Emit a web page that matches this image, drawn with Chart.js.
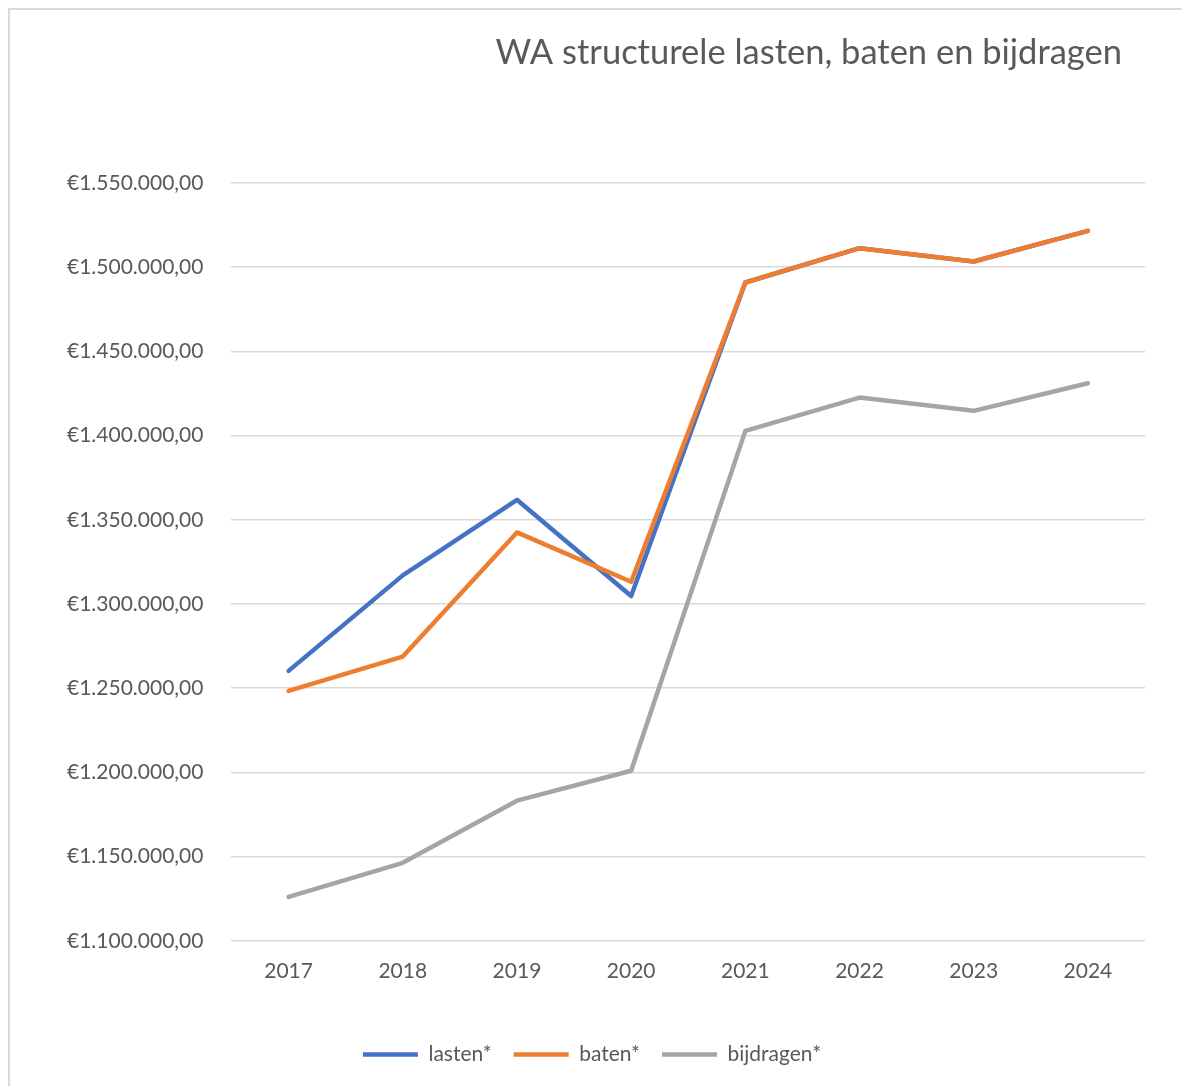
<!DOCTYPE html>
<html>
<head>
<meta charset="utf-8">
<script src="https://cdn.jsdelivr.net/npm/chart.js@4.4.1/dist/chart.umd.min.js"></script>
<style>
  body { margin: 0; background: #fff; }
  #frame {
    position: absolute; left: 8px; top: 8px;
    width: 1180px; height: 1084px;
    border-left: 2px solid #d9d9d9; border-top: 2px solid #d9d9d9;
  }
</style>
</head>
<body>
<div id="frame"><canvas id="lineChart" width="1172" height="1076"></canvas></div>
<script>
// data
var years = ['2017', '2018', '2019', '2020', '2021', '2022', '2023', '2024'];
var lasten = [1260300, 1317000, 1361900, 1304700, 1490900, 1511300, 1503400, 1521600];
var baten = [1248400, 1268800, 1342500, 1313200, 1490900, 1511300, 1503400, 1521600];
var bijdragen = [1126100, 1146300, 1183200, 1201000, 1402800, 1422600, 1414700, 1431100];
var titleText = 'WA structurele lasten, baten en bijdragen';

var textColor = '#595959';
var fontFamily = 'Lato, "Open Sans", sans-serif';

// €1.550.000,00 style
function euro(v) {
  var s = Math.round(v).toString().replace(/\B(?=(\d{3})+(?!\d))/g, '.');
  return '€' + s + ',00';
}

function line(label, values, color, order) {
  return {
    label: label,
    data: values,
    order: order,
    borderColor: color,
    backgroundColor: color,
    borderWidth: 4.5,
    borderCapStyle: 'round',
    borderJoinStyle: 'round',
    pointRadius: 0,
    tension: 0,
    fill: false
  };
}

// title at the right side, like the original
var rightTitle = {
  id: 'rightTitle',
  afterDraw: function(chart) {
    var ctx = chart.ctx;
    ctx.save();
    ctx.font = '34.5px ' + fontFamily;
    ctx.fillStyle = textColor;
    ctx.textAlign = 'right';
    ctx.textBaseline = 'middle';
    ctx.fillText(titleText, chart.chartArea.right - 23, 43);
    ctx.restore();
  }
};

var ctx = document.getElementById('lineChart').getContext('2d');
var chart = new Chart(ctx, {
  type: 'line',
  data: {
    labels: years,
    datasets: [
      // orange sits on top of blue where they overlap
      line('lasten*', lasten, '#4472c4', 2),
      line('baten*', baten, '#ed7d31', 1),
      line('bijdragen*', bijdragen, '#a5a5a5', 3)
    ]
  },
  options: {
    responsive: false,
    animation: false,
    layout: { padding: { left: 29, right: 37, top: 173, bottom: 11 } },
    plugins: {
      title: { display: false },
      tooltip: { enabled: false },
      legend: {
        position: 'bottom',
        labels: {
          usePointStyle: true,
          pointStyle: 'line',
          pointStyleWidth: 55,
          color: textColor,
          font: { family: fontFamily, size: 21 },
          padding: 22,
          sort: function(a, b) { return a.datasetIndex - b.datasetIndex; }
        }
      }
    },
    scales: {
      x: {
        offset: true,
        grid: { display: false },
        border: { display: false },
        ticks: { color: textColor, font: { family: fontFamily, size: 21 }, padding: 10 },
        afterFit: function(s) { s.height += 28; }
      },
      y: {
        min: 1100000,
        max: 1550000,
        grid: { color: '#d9d9d9', lineWidth: 1.5, drawTicks: false },
        border: { display: false },
        ticks: {
          stepSize: 50000,
          color: textColor,
          font: { family: fontFamily, size: 21 },
          padding: 28,
          callback: function(v) { return euro(v); }
        }
      }
    }
  },
  plugins: [rightTitle]
});
</script>
</body>
</html>
